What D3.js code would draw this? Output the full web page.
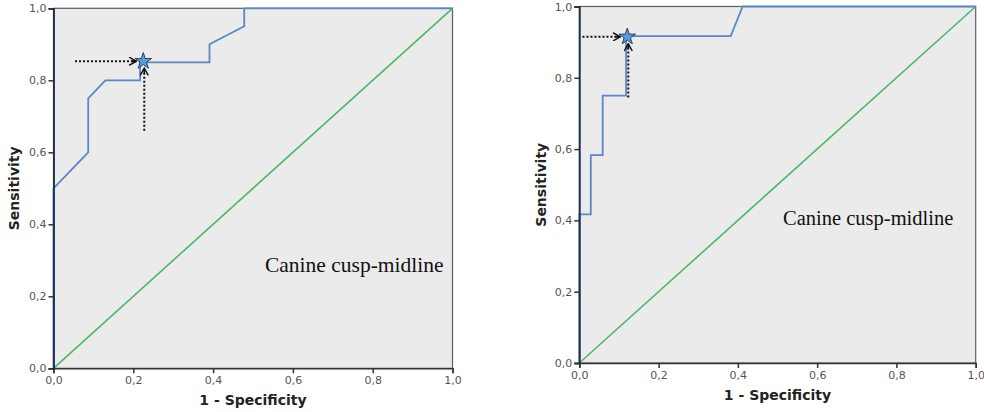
<!DOCTYPE html>
<html>
<head>
  <script src="https://d3js.org/d3.v7.min.js"></script>
  <style>
    body { margin: 0; background: #fff; }
    .tick text { font-family: "DejaVu Sans", Verdana, sans-serif; font-size: 11px; fill: #555; }
    .axis-title { font-family: "DejaVu Sans", Verdana, sans-serif; font-size: 14px; font-weight: bold; fill: #222; }
    .note { font-family: "Liberation Serif", "Times New Roman", serif; fill: #111; }
  </style>
</head>
<body>
  <svg id="chart" width="984" height="412"></svg>
  <script>
    // ROC curve points (1 - specificity, sensitivity)
    const leftFpr = [0, 0, 0.087, 0.087, 0.13, 0.217, 0.217, 0.391, 0.391, 0.478, 0.478, 1];
    const leftTpr = [0, 0.5, 0.6, 0.75, 0.8, 0.8, 0.85, 0.85, 0.9, 0.95, 1, 1];
    const rightFpr = [0, 0, 0.029, 0.029, 0.059, 0.059, 0.118, 0.118, 0.382, 0.412, 1];
    const rightTpr = [0, 0.417, 0.417, 0.583, 0.583, 0.75, 0.75, 0.917, 0.917, 1, 1];

    // optimal cut-off (star) and where the dotted arrows start
    const leftCut = [0.225, 0.853];
    const rightCut = [0.121, 0.915];
    const leftArrowFrom = [0.054, 0.66];
    const rightArrowFrom = [0.008, 0.745];

    const tickValues = [0, 0.2, 0.4, 0.6, 0.8, 1.0];
    const xTitle = "1 - Specificity";
    const yTitle = "Sensitivity";
    const noteText = "Canine cusp-midline";

    const comma = d3.formatLocale({ decimal: ",", thousands: ".", grouping: [3], currency: ["", ""] }).format(".1f");

    const svg = d3.select("#chart");

    // arrow head marker
    const defs = svg.append("defs");
    defs.append("marker")
      .attr("id", "head")
      .attr("viewBox", "0 -5 10 10")
      .attr("refX", 9)
      .attr("refY", 0)
      .attr("markerWidth", 9)
      .attr("markerHeight", 9)
      .attr("markerUnits", "userSpaceOnUse")
      .attr("orient", "auto")
      .append("path")
      .attr("d", "M1,-4.5L9,0L1,4.5M9,0L3,0")
      .attr("fill", "none")
      .attr("stroke", "#111")
      .attr("stroke-width", 1.6);

    const panels = [
      { fpr: leftFpr, tpr: leftTpr, cut: leftCut, from: leftArrowFrom,
        x0: 53.5, x1: 452.5, y0: 368.3, y1: 8.3,
        note: [0.53, 0.267], noteSize: 21.5, yTitleX: 14, xTitleY: 405 },
      { fpr: rightFpr, tpr: rightTpr, cut: rightCut, from: rightArrowFrom,
        x0: 579.3, x1: 975.7, y0: 363, y1: 6.5,
        note: [0.514, 0.387], noteSize: 20.5, yTitleX: 541, xTitleY: 400 }
    ];

    panels.forEach(p => {
      const x = d3.scaleLinear().domain([0, 1]).range([p.x0, p.x1]);
      const y = d3.scaleLinear().domain([0, 1]).range([p.y0, p.y1]);
      const g = svg.append("g");

      // plot background + frame
      g.append("rect")
        .attr("x", x(0)).attr("y", y(1))
        .attr("width", x(1) - x(0)).attr("height", y(0) - y(1))
        .attr("fill", "#ebebeb")
        .attr("stroke", "#5a5f66")
        .attr("stroke-width", 1.2);

      // reference diagonal
      g.append("line")
        .attr("x1", x(0)).attr("y1", y(0))
        .attr("x2", x(1)).attr("y2", y(1))
        .attr("stroke", "#4cb86a")
        .attr("stroke-width", 1.6);

      // roc curve
      const pts = p.fpr.map((f, i) => [f, p.tpr[i]]);
      g.append("path")
        .attr("d", d3.line().x(d => x(d[0])).y(d => y(d[1]))(pts))
        .attr("fill", "none")
        .attr("stroke", "#5b86c8")
        .attr("stroke-width", 1.8);

      // axes
      g.append("g")
        .attr("transform", `translate(0,${y(0)})`)
        .call(d3.axisBottom(x).tickValues(tickValues).tickFormat(comma).tickSize(5).tickPadding(3))
        .call(a => a.selectAll("line, path").attr("stroke", "#333").attr("stroke-width", 1.5));
      g.append("g")
        .attr("transform", `translate(${x(0)},0)`)
        .call(d3.axisLeft(y).tickValues(tickValues).tickFormat(comma).tickSize(5).tickPadding(2))
        .call(a => a.selectAll("line").attr("stroke", "#333").attr("stroke-width", 1.5))
        .call(a => a.select("path").attr("stroke", "#1c2b4a").attr("stroke-width", 1.8));

      // dotted arrows to cut-off point
      g.append("line")
        .attr("x1", x(p.from[0])).attr("y1", y(p.cut[1]))
        .attr("x2", x(p.cut[0]) - 7).attr("y2", y(p.cut[1]))
        .attr("stroke", "#111").attr("stroke-width", 2)
        .attr("stroke-dasharray", "2,2")
        .attr("marker-end", "url(#head)");
      g.append("line")
        .attr("x1", x(p.cut[0]) + 1).attr("y1", y(p.from[1]))
        .attr("x2", x(p.cut[0]) + 1).attr("y2", y(p.cut[1]) + 7)
        .attr("stroke", "#111").attr("stroke-width", 2)
        .attr("stroke-dasharray", "2,2")
        .attr("marker-end", "url(#head)");

      // star
      g.append("path")
        .attr("d", d3.symbol(d3.symbolStar, 85)())
        .attr("transform", `translate(${x(p.cut[0])},${y(p.cut[1])})`)
        .attr("fill", "#5b9bd5")
        .attr("stroke", "#1f3555")
        .attr("stroke-width", 0.9);

      // annotation
      g.append("text")
        .attr("class", "note")
        .attr("x", x(p.note[0]))
        .attr("y", y(p.note[1]))
        .style("font-size", p.noteSize + "px")
        .text(noteText);

      // axis titles
      g.append("text")
        .attr("class", "axis-title")
        .attr("text-anchor", "middle")
        .attr("x", (x(0) + x(1)) / 2)
        .attr("y", p.xTitleY)
        .text(xTitle);
      g.append("text")
        .attr("class", "axis-title")
        .attr("text-anchor", "middle")
        .attr("transform", `translate(${p.yTitleX},${(y(0) + y(1)) / 2}) rotate(-90)`)
        .attr("dy", "0.35em")
        .text(yTitle);
    });
  </script>
</body>
</html>
